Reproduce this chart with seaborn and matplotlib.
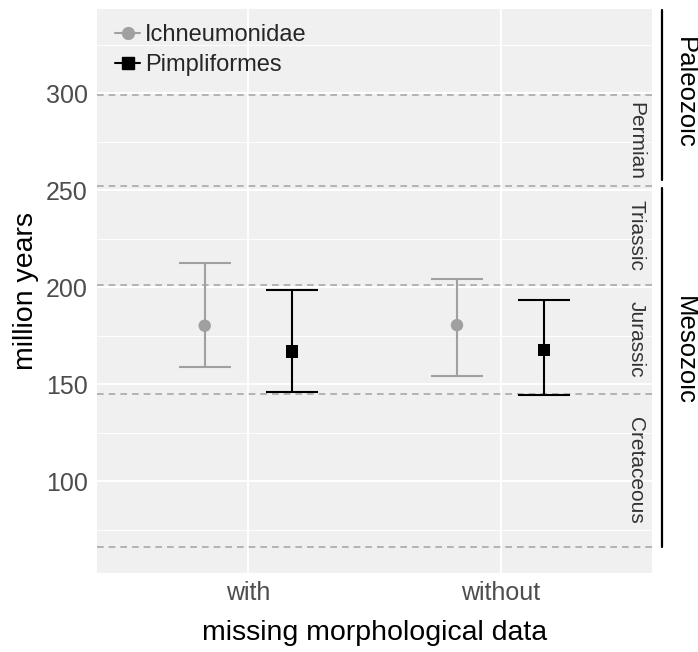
import numpy as np
import pandas as pd
import matplotlib
matplotlib.use("Agg")
import matplotlib.pyplot as plt
import matplotlib.transforms as mtransforms
from matplotlib.lines import Line2D
import seaborn as sns

# ---- data ----
categories = ["with", "without"]
groups = ["Ichneumonidae", "Pimpliformes"]
ich_mean = [180.1, 180.4]
ich_low = [159.0, 154.2]
ich_high = [212.6, 204.0]
pim_mean = [166.7, 167.5]
pim_low = [145.9, 144.2]
pim_high = [198.3, 193.2]

period_names = ["Permian", "Triassic", "Jurassic", "Cretaceous"]
period_bounds = [299, 252, 201, 145, 66]
era_names = ["Paleozoic", "Mesozoic"]
era_line_top = [343, 251]
era_line_bottom = [255, 66]
era_label_y = [300.3, 167.5]

# ---- styling ----
sns.set_theme(style="whitegrid")
plt.rcParams['font.family'] = ['Liberation Sans', 'DejaVu Sans']

fig = plt.figure(figsize=(6.98, 6.52), dpi=100)
ax = fig.add_axes([97/698, 79/652, 555/698, 564/652])
ax.set_facecolor("#F0F0F0")

colors = {"Ichneumonidae": "#A0A0A0", "Pimpliformes": "#000000"}
markers = {"Ichneumonidae": "o", "Pimpliformes": "s"}
offsets = {"Ichneumonidae": -0.173, "Pimpliformes": 0.173}

rows = []
for g, m, lo, hi in [("Ichneumonidae", ich_mean, ich_low, ich_high),
                     ("Pimpliformes", pim_mean, pim_low, pim_high)]:
    for i, c in enumerate(categories):
        rows.append(dict(group=g, category=c, pos=i + offsets[g],
                         mean=m[i], low=lo[i], high=hi[i]))
df = pd.DataFrame(rows)

# grid
ax.set_ylim(52.6, 343.4)
ax.set_xlim(-0.6, 1.6)
ax.set_yticks([100, 150, 200, 250, 300])
ax.set_yticks([75, 125, 175, 225, 275, 325], minor=True)
ax.set_xticks([0, 1])
ax.set_xticklabels(categories)
ax.grid(which="major", color="white", linewidth=1.4)
ax.grid(which="minor", axis="y", color="white", linewidth=0.7)
ax.set_axisbelow(True)
for s in ax.spines.values():
    s.set_visible(False)

# dashed period boundaries
for b in period_bounds:
    ax.axhline(b, color="#A8A8A8", linestyle=(0, (4, 3)), linewidth=1.2, zorder=1)

# error bars
for g in groups:
    sub = df[df.group == g]
    ax.errorbar(sub["pos"], sub["mean"],
                yerr=[sub["mean"] - sub["low"], sub["high"] - sub["mean"]],
                fmt="none", ecolor=colors[g], elinewidth=1.5, capsize=18.4,
                capthick=1.5, zorder=3)

sns.scatterplot(data=df, x="pos", y="mean", hue="group", style="group",
                palette=colors, markers=markers, s=80, edgecolor="none",
                ax=ax, legend=False, zorder=4)

# period labels inside panel
trans = mtransforms.blended_transform_factory(ax.transAxes, ax.transData)
for i, name in enumerate(period_names):
    yc = (period_bounds[i] + period_bounds[i + 1]) / 2
    ax.text(0.971, yc, name, rotation=-90, ha="center", va="center",
            fontsize=15, color="#333333", transform=trans)

# era lines & labels outside panel
for name, t, b, ly in zip(era_names, era_line_top, era_line_bottom, era_label_y):
    ax.add_line(Line2D([1.018, 1.018], [b, t], color="black", linewidth=1.6,
                       transform=trans, clip_on=False))
    ax.text(1.059, ly, name, rotation=-90, ha="center", va="center",
            fontsize=18.5, color="black", transform=trans, clip_on=False)

ax.tick_params(axis="both", which="major", length=3, width=0.8, color="#4D4D4D",
               labelsize=18, labelcolor="#4D4D4D", pad=3.5)
ax.tick_params(axis="y", which="minor", length=0)
ax.tick_params(axis="x", pad=3)

ax.set_xlabel("missing morphological data", fontsize=20.5, color="black")
ax.set_ylabel("million years", fontsize=20.5, color="black")
ax.xaxis.set_label_coords(0.5, -0.0834)
ax.yaxis.set_label_coords(-0.1045, 0.5)

handles = [Line2D([0], [0], color=colors[g], marker=markers[g], markersize=8.5,
                  linewidth=1.5, label=g) for g in groups]
leg = ax.legend(handles=handles, loc="upper left", bbox_to_anchor=(-0.003, 1.009),
                frameon=False, fontsize=17, handlelength=1.06, handletextpad=0.2,
                labelspacing=0.33, borderaxespad=0.5, borderpad=0.35)

fig.savefig("out.png", dpi=100)
